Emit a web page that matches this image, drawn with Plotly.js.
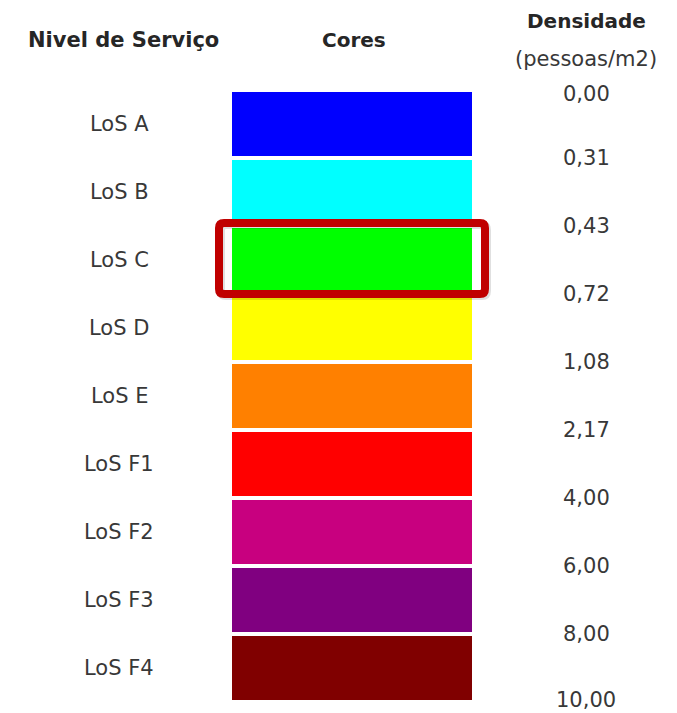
<!DOCTYPE html>
<html>
<head>
<meta charset="utf-8">
<script src="https://cdn.plot.ly/plotly-3.0.1.min.js"></script>
<style>
html, body { margin: 0; padding: 0; background: #ffffff; }
#chart { width: 677px; height: 713px; }
</style>
</head>
<body>
<div id="chart"></div>
<script>
// ---- Data ----
const levels = ["LoS A", "LoS B", "LoS C", "LoS D", "LoS E", "LoS F1", "LoS F2", "LoS F3", "LoS F4"];
const levelColors = ["#0000FF", "#00FFFF", "#00FF00", "#FFFF00", "#FF8000", "#FF0000", "#C8007F", "#800080", "#800000"];
const densityLabels = ["0,00", "0,31", "0,43", "0,72", "1,08", "2,17", "4,00", "6,00", "8,00", "10,00"];
const swatchLength = [1, 1, 1, 1, 1, 1, 1, 1, 1];
const highlighted = "LoS C";
const headerLevel = "Nivel de Serviço";
const headerColor = "Cores";
const headerDensity = "Densidade";
const headerUnit = "(pessoas/m2)";

// ---- Layout helpers ----
const W = 677, H = 713;
const mL = 232, mR = 205, mT = 90, mB = 11;
const plotW = W - mL - mR, plotH = H - mT - mB;
const rowH = plotH / levels.length;
const px2paperX = px => (px - mL) / plotW;
const px2paperY = py => 1 + (mT - py) / plotH;
const textColor = "#383838";
const fam = "DejaVu Sans, Verdana, sans-serif";

const idx = levels.map((_, i) => i);

const trace = {
  type: "bar",
  orientation: "h",
  y: idx,
  x: swatchLength,
  base: 0,
  marker: { color: levelColors, line: { width: 0 } },
  hoverinfo: "skip"
};

const annotations = [];
levels.forEach((lv, i) => {
  annotations.push({
    xref: "paper", yref: "y", x: px2paperX(119), y: i,
    text: lv, showarrow: false, xanchor: "center", yanchor: "middle",
    font: { family: fam, size: 21, color: textColor }
  });
});
densityLabels.forEach((d, i) => {
  annotations.push({
    xref: "paper", yref: "y", x: px2paperX(586), y: i - 0.5,
    yshift: i === 0 ? -4 : (i === densityLabels.length - 1 ? 2 : 0),
    text: d, showarrow: false, xanchor: "center", yanchor: "middle",
    font: { family: fam, size: 21, color: textColor }
  });
});
annotations.push(
  { xref: "paper", yref: "paper", x: px2paperX(123), y: px2paperY(40), text: "<b>" + headerLevel + "</b>",
    showarrow: false, xanchor: "center", yanchor: "middle", font: { family: fam, size: 21, color: "#262626" } },
  { xref: "paper", yref: "paper", x: px2paperX(354), y: px2paperY(40), text: "<b>" + headerColor + "</b>",
    showarrow: false, xanchor: "center", yanchor: "middle", font: { family: fam, size: 20, color: "#262626" } },
  { xref: "paper", yref: "paper", x: px2paperX(586), y: px2paperY(21), text: "<b>" + headerDensity + "</b>",
    showarrow: false, xanchor: "center", yanchor: "middle", font: { family: fam, size: 20, color: "#262626" } },
  { xref: "paper", yref: "paper", x: px2paperX(586), y: px2paperY(59), text: headerUnit,
    showarrow: false, xanchor: "center", yanchor: "middle", font: { family: fam, size: 21, color: textColor } }
);

// highlight rectangle (rounded) around the highlighted level
const hi = levels.indexOf(highlighted);
const x0 = px2paperX(219), x1 = px2paperX(485);
const y0 = hi - 0.5 - 3 / rowH, y1 = hi + 0.5;
const rx = 5 / plotW, ry = 5 / rowH;
function roundedPath(dx, dy) {
  const a = x0 + dx, b = x1 + dx, c = y0 + dy, d = y1 + dy;
  return `M ${a + rx},${c} L ${b - rx},${c} Q ${b},${c} ${b},${c + ry} ` +
    `L ${b},${d - ry} Q ${b},${d} ${b - rx},${d} L ${a + rx},${d} ` +
    `Q ${a},${d} ${a},${d - ry} L ${a},${c + ry} Q ${a},${c} ${a + rx},${c} Z`;
}

const shapes = [
  { type: "path", xref: "paper", yref: "y", path: roundedPath(2 / plotW, 2 / rowH),
    line: { color: "rgba(0,0,0,0.12)", width: 8 }, layer: "above" },
  { type: "path", xref: "paper", yref: "y", path: roundedPath(0, 0),
    line: { color: "#C00000", width: 8 }, layer: "above" }
];

const layout = {
  width: W, height: H,
  margin: { l: mL, r: mR, t: mT, b: mB, pad: 0 },
  paper_bgcolor: "#ffffff", plot_bgcolor: "#ffffff",
  showlegend: false,
  bargap: 0.06,
  xaxis: { range: [0, 1], visible: false, fixedrange: true },
  yaxis: { range: [levels.length - 0.5, -0.5], visible: false, fixedrange: true },
  annotations: annotations,
  shapes: shapes
};

Plotly.newPlot("chart", [trace], layout, { displayModeBar: false, staticPlot: true });
</script>
</body>
</html>
